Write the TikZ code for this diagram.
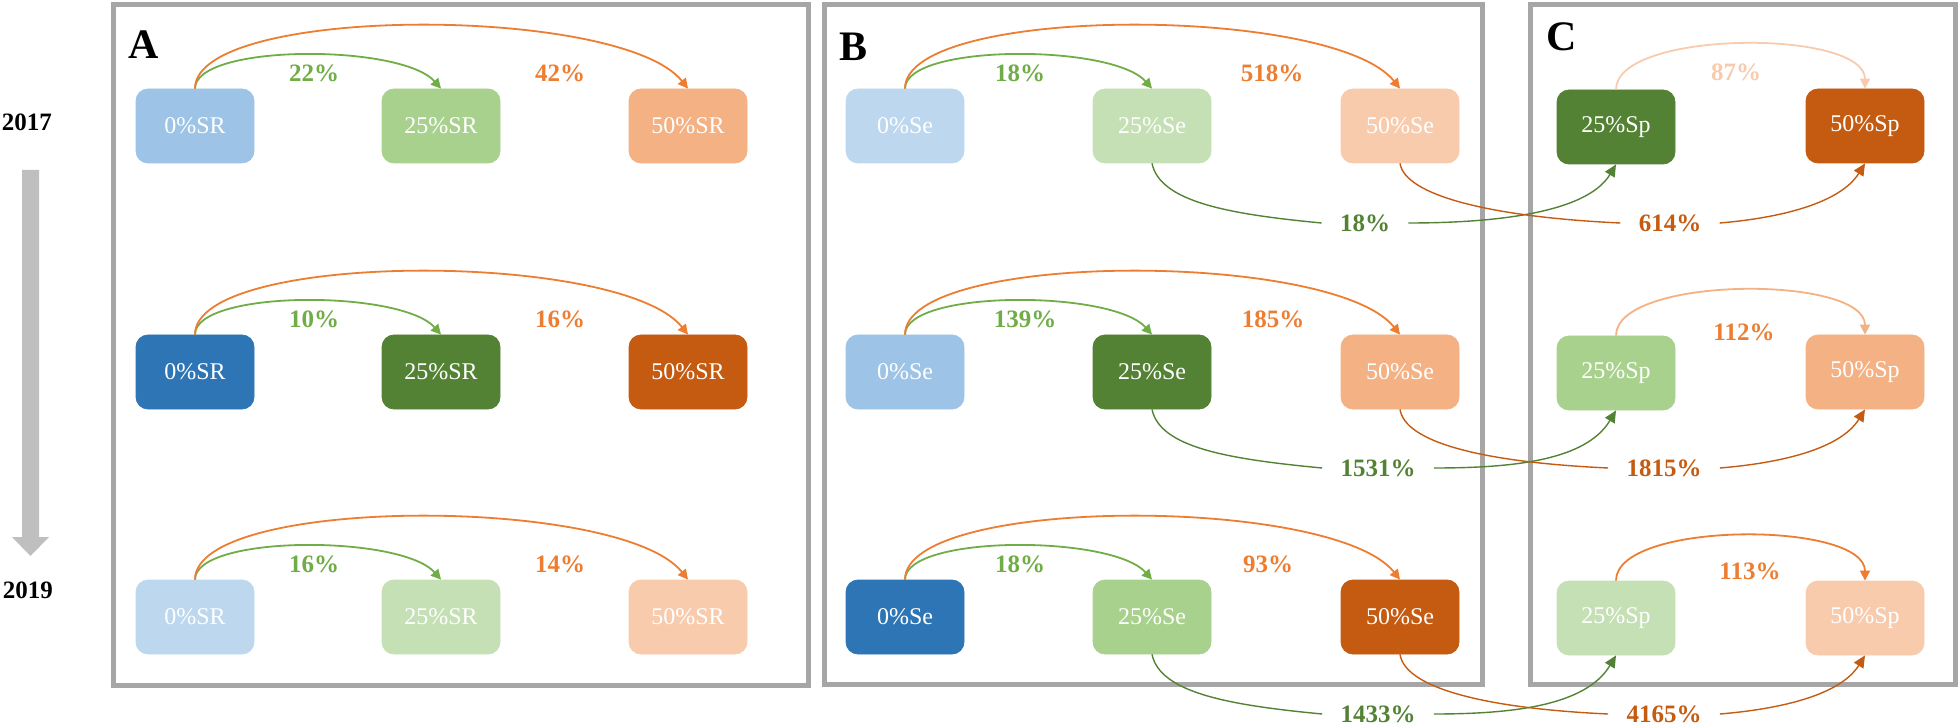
\documentclass[tikz,border=0pt]{standalone}
\usepackage{fontspec}
\setmainfont{Liberation Serif}
\usetikzlibrary{arrows.meta}
\definecolor{blueD}{HTML}{2E75B6}
\definecolor{blueM}{HTML}{9DC3E6}
\definecolor{blueL}{HTML}{BDD7EE}
\definecolor{greenD}{HTML}{548235}
\definecolor{greenM}{HTML}{A9D18E}
\definecolor{greenL}{HTML}{C5E0B4}
\definecolor{orangeD}{HTML}{C55A11}
\definecolor{orangeM}{HTML}{F4B183}
\definecolor{orangeL}{HTML}{F8CBAD}
\definecolor{gArc}{HTML}{70AD47}
\definecolor{oArc}{HTML}{ED7D31}
\definecolor{frameGray}{HTML}{A6A6A6}
\definecolor{timeGray}{HTML}{BFBFBF}
\begin{document}
\begin{tikzpicture}[x=0.5pt,y=-0.5pt,
  box/.style={rounded corners=6pt, minimum width=59pt, minimum height=37pt,
    inner sep=0pt, text=white, font=\fontsize{12}{14}\selectfont},
  pct/.style={font=\bfseries\fontsize{12.5}{14}\selectfont, inner sep=1pt},
  xlab/.style={font=\bfseries\fontsize{12.5}{14}\selectfont, inner xsep=9pt, inner ysep=2pt},
  year/.style={font=\bfseries\fontsize{12.5}{14}\selectfont, inner sep=1pt},
  letter/.style={font=\bfseries\fontsize{21}{24}\selectfont, inner sep=0pt},
  frame/.style={draw=frameGray, line width=2.5pt},
  arc/.style={line width=0.9pt, -{Triangle[length=5pt,width=5pt]}},
  cross/.style={line width=0.7pt},
  crossarr/.style={line width=0.7pt, -{Triangle[length=6pt,width=5.5pt]}}
]
\useasboundingbox (0,0) rectangle (1960,727);

% time arrow
\fill[timeGray] (22,170) -- (39,170) -- (39,537) -- (49,537) -- (30.5,556) -- (12,537) -- (22,537) -- cycle;
\node[year] (y1) at (27,122) {2017};
\node[year] (y2) at (28,590) {2019};

% frames
\draw[frame] (113,5) rectangle (808,685);
\draw[frame] (824,5) rectangle (1482,684);
\draw[frame] (1530,5) rectangle (1955,684);
\node[letter] (lA) at (144,45) {A};
\node[letter] (lB) at (853,47) {B};
\node[letter] (lC) at (1562,37) {C};

% ---- nodes row 1 (2017)
\node[box, fill=blueM, draw=blueM] (a01) at (195,126) {0\%SR};
\node[box, fill=greenM, draw=greenM] (a251) at (441,126) {25\%SR};
\node[box, fill=orangeM, draw=orangeM] (a501) at (688,126) {50\%SR};
\node[box, fill=blueL, draw=blueL] (b01) at (905,126) {0\%Se};
\node[box, fill=greenL, draw=greenL] (b251) at (1152,126) {25\%Se};
\node[box, fill=orangeL, draw=orangeL] (b501) at (1400,126) {50\%Se};
\node[box, fill=greenD, draw=greenD] (c251) at (1616,127) {25\%Sp};
\node[box, fill=orangeD, draw=orangeD] (c501) at (1865,126) {50\%Sp};
% ---- row 2
\node[box, fill=blueD, draw=blueD] (a02) at (195,372) {0\%SR};
\node[box, fill=greenD, draw=greenD] (a252) at (441,372) {25\%SR};
\node[box, fill=orangeD, draw=orangeD] (a502) at (688,372) {50\%SR};
\node[box, fill=blueM, draw=blueM] (b02) at (905,372) {0\%Se};
\node[box, fill=greenD, draw=greenD] (b252) at (1152,372) {25\%Se};
\node[box, fill=orangeM, draw=orangeM] (b502) at (1400,372) {50\%Se};
\node[box, fill=greenM, draw=greenM] (c252) at (1616,373) {25\%Sp};
\node[box, fill=orangeM, draw=orangeM] (c502) at (1865,372) {50\%Sp};
% ---- row 3 (2019)
\node[box, fill=blueL, draw=blueL] (a03) at (195,617) {0\%SR};
\node[box, fill=greenL, draw=greenL] (a253) at (441,617) {25\%SR};
\node[box, fill=orangeL, draw=orangeL] (a503) at (688,617) {50\%SR};
\node[box, fill=blueD, draw=blueD] (b03) at (905,617) {0\%Se};
\node[box, fill=greenM, draw=greenM] (b253) at (1152,617) {25\%Se};
\node[box, fill=orangeD, draw=orangeD] (b503) at (1400,617) {50\%Se};
\node[box, fill=greenL, draw=greenL] (c253) at (1616,618) {25\%Sp};
\node[box, fill=orangeL, draw=orangeL] (c503) at (1865,618) {50\%Sp};

% ---- arcs within panels A and B
\foreach \p in {a,b}{
  \foreach \r in {1,2,3}{
    \draw[arc, gArc] (\p0\r.north) .. controls +(0,-45) and +(-40,-45) .. (\p25\r.north);
    \draw[arc, oArc] (\p0\r.north) .. controls +(0,-84) and +(-67,-84) .. (\p50\r.north);
  }
}
% percentage labels A
\node[pct, text=gArc] (pa1g) at (314,73) {22\%};
\node[pct, text=oArc] (pa1o) at (560,73) {42\%};
\node[pct, text=gArc] (pa2g) at (314,319) {10\%};
\node[pct, text=oArc] (pa2o) at (560,319) {16\%};
\node[pct, text=gArc] (pa3g) at (314,564) {16\%};
\node[pct, text=oArc] (pa3o) at (560,564) {14\%};
% percentage labels B
\node[pct, text=gArc] (pb1g) at (1020,73) {18\%};
\node[pct, text=oArc] (pb1o) at (1272,73) {518\%};
\node[pct, text=gArc] (pb2g) at (1025,319) {139\%};
\node[pct, text=oArc] (pb2o) at (1273,319) {185\%};
\node[pct, text=gArc] (pb3g) at (1020,564) {18\%};
\node[pct, text=oArc] (pb3o) at (1268,564) {93\%};

% ---- arcs within panel C
\draw[arc, orangeL] (c251.north) .. controls +(0,-60) and +(0,-60) .. (c501.north);
\draw[arc, orangeM] (c252.north) .. controls +(0,-60) and +(0,-60) .. (c502.north);
\draw[arc, oArc] (c253.north) .. controls +(0,-60) and +(0,-60) .. (c503.north);
\node[pct, text=orangeL] (pc1) at (1736,72) {87\%};
\node[pct, text=oArc] (pc2) at (1744,332) {112\%};
\node[pct, text=oArc] (pc3) at (1750,571) {113\%};

% ---- cross-panel connectors B -> C
\node[xlab, text=greenD] (xg1) at (1365,223) {18\%};
\node[xlab, text=orangeD] (xo1) at (1670,223) {614\%};
\node[xlab, text=greenD] (xg2) at (1378,468) {1531\%};
\node[xlab, text=orangeD] (xo2) at (1664,468) {1815\%};
\node[xlab, text=greenD] (xg3) at (1378,714) {1433\%};
\node[xlab, text=orangeD] (xo3) at (1664,714) {4165\%};

\foreach \r in {1,2,3}{
  \draw[cross, greenD] (b25\r.south) .. controls +(8,38) and +(-95,-9) .. (xg\r.west);
  \draw[crossarr, greenD] (xg\r.east) .. controls +(80,0) and +(-30,50) .. (c25\r.south);
  \draw[cross, orangeD] (b50\r.south) .. controls +(5,32) and +(-130,-6) .. (xo\r.west);
  \draw[crossarr, orangeD] (xo\r.east) .. controls +(60,-5) and +(-25,40) .. (c50\r.south);
}
\end{tikzpicture}
\end{document}
